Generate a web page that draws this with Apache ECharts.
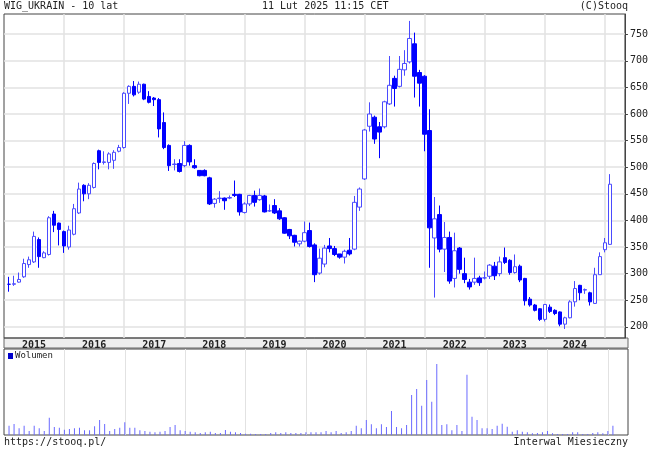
<!DOCTYPE html>
<html>
<head>
<meta charset="utf-8">
<script src="https://cdn.jsdelivr.net/npm/echarts@6/dist/echarts.min.js"></script>
<style>
html,body{margin:0;padding:0;background:#fff;}
#chart{width:651px;height:452px;}
</style>
</head>
<body>
<div id="chart"></div>
<script>
// notowania miesieczne WIG_UKRAIN, od 2015-02 do 2025-02
var opens  = [280,280,284,294,317,322,364,330,336,412,395,379,350,374,414,466,450,462,531,509,509,513,530,537,639,652,641,656,633,630,627,584,541,505,507,503,541,503,494,494,480,432,441,442,442,449,449,415,431,447,439,446,418,428,418,405,383,372,356,361,381,354,
              301,318,352,347,337,331,344,346,425,478,577,594,576,576,619,667,652,683,698,732,678,671,569,367,411,346,368,291,348,300,284,284,292,292,295,314,300,330,325,302,314,291,252,241,234,214,237,231,228,205,217,247,278,269,264,244,298,345,355];
var closes = [280,281,289,319,326,370,332,339,405,391,383,352,382,422,459,450,466,507,509,510,525,528,537,639,652,636,656,628,622,627,572,537,503,506,492,541,510,499,484,484,431,440,442,437,443,447,416,431,447,434,447,416,418,414,403,376,371,359,361,377,351,298,
              329,348,347,336,331,342,337,434,459,570,600,553,566,623,654,648,684,695,742,671,658,562,386,403,346,368,286,343,308,289,275,291,283,292,316,296,322,321,302,313,288,249,241,231,214,242,229,225,205,217,247,272,264,270,247,298,332,358,468];
var lows   = [266,277,283,292,311,320,311,329,334,378,353,339,345,372,412,436,440,460,496,505,496,497,528,535,619,633,638,626,620,615,556,534,493,494,490,500,503,497,483,483,429,424,433,420,440,444,409,413,427,426,437,415,416,412,401,375,365,351,351,359,349,284,
              298,312,340,333,328,319,334,344,418,476,567,544,517,573,617,614,650,672,695,631,614,530,311,255,340,303,281,274,300,282,270,279,277,289,290,288,295,318,298,300,284,240,238,229,211,210,226,222,201,196,216,238,250,262,240,243,298,340,354];
var highs  = [294,296,302,328,332,379,368,342,408,418,396,381,390,431,471,468,470,509,533,530,528,532,542,641,654,662,661,657,643,632,630,603,543,515,515,549,543,515,494,496,482,442,455,443,447,475,450,434,448,456,460,448,430,440,423,406,384,373,362,398,396,357,
              347,354,367,352,337,345,367,446,462,572,622,597,585,625,709,672,709,720,775,753,683,673,609,444,428,397,379,377,350,330,290,330,296,304,318,322,332,349,327,336,317,292,256,243,235,243,242,233,229,219,250,286,279,272,266,311,340,367,487];
var volumes = [28,33,20,28,12,28,20,12,52,24,22,16,18,20,22,14,14,26,45,33,12,18,22,38,22,22,14,12,10,8,10,12,24,30,14,12,10,8,6,8,
               10,6,6,15,10,8,6,4,4,3,3,3,6,8,6,8,6,6,6,8,8,8,8,12,8,12,6,8,12,28,20,45,32,20,32,24,72,24,20,30,
               120,138,88,165,100,213,30,32,14,30,12,181,55,45,20,20,18,28,34,25,10,14,10,8,5,6,8,12,5,3,3,3,8,8,3,3,6,8,5,12,28];
var startYear = 2015, startMonth = 2;
var yTicks = [200,250,300,350,400,450,500,550,600,650,700,750];

// kategorie: jeden pusty slot z przodu i trzy z tylu
var categories = [''];
var candleData = ['-'];
var volData = ['-'];
for (var i = 0; i < opens.length; i++) {
    var m = startMonth - 1 + i;
    var y = startYear + Math.floor(m / 12);
    var mm = (m % 12) + 1;
    categories.push(y + '-' + (mm < 10 ? '0' + mm : mm));
    candleData.push([opens[i], closes[i], lows[i], highs[i]]);
    volData.push(volumes[i]);
}
for (var j = 0; j < 3; j++) { categories.push(''); candleData.push('-'); volData.push('-'); }

var font = 'DejaVu Sans Mono';
var isJan = function(idx, val){ return /-01$/.test(val); };

var myChart = echarts.init(document.getElementById('chart'));
var option = {
    animation: false,
    backgroundColor: '#fff',
    textStyle: { fontFamily: font },
    grid: [
        { left: 4, width: 624, top: 14, height: 324, show: true, borderColor: '#444', borderWidth: 1 },
        { left: 4, width: 624, top: 349, height: 86, show: true, borderColor: '#444', borderWidth: 1 }
    ],
    xAxis: [{
        gridIndex: 0, type: 'category', data: categories, boundaryGap: false,
        axisLine: { show: false }, axisTick: { show: false },
        axisLabel: { interval: function(idx, val){ return /-07$/.test(val); },
            formatter: function(v){ return v.slice(0, 4); },
            margin: 2, fontSize: 10, fontWeight: 'bold', color: '#222', fontFamily: font },
        splitLine: { show: true, interval: isJan, lineStyle: { color: '#e2e2e2', width: 1.5 } }
    }, {
        gridIndex: 1, type: 'category', data: categories, boundaryGap: false,
        axisLine: { show: false }, axisTick: { show: false }, axisLabel: { show: false },
        splitLine: { show: true, interval: isJan, lineStyle: { color: '#e2e2e2', width: 1 } }
    }],
    yAxis: [{
        gridIndex: 0, type: 'value', position: 'right', min: 179, max: 788,
        axisLine: { show: true, lineStyle: { color: '#444' } },
        axisTick: { show: true, inside: false, length: 3, customValues: yTicks, lineStyle: { color: '#444' } },
        axisLabel: { customValues: yTicks, margin: 5, fontSize: 10, color: '#222', fontFamily: font },
        splitLine: { show: true, lineStyle: { color: '#e2e2e2', width: 1.5 } }
    }, {
        gridIndex: 1, type: 'value', min: 0, max: 258, show: false,
        splitLine: { show: false }
    }],
    series: [{
        type: 'candlestick', xAxisIndex: 0, yAxisIndex: 0, data: candleData,
        barWidth: 4,
        itemStyle: { color: '#ffffff', color0: '#0000ff', borderColor: '#4b4bff', borderColor0: '#0000ff', borderWidth: 1 }
    }, {
        type: 'bar', xAxisIndex: 1, yAxisIndex: 1, data: volData,
        barWidth: 1, itemStyle: { color: '#6a6aff' }
    }],
    graphic: [
        { type: 'rect', z: -1, shape: { x: 4, y: 338, width: 624, height: 10 },
          style: { fill: '#eeeeee', stroke: '#666', lineWidth: 1 } },
        { type: 'text', left: 4, top: 1, style: { text: 'WIG_UKRAIN - 10 lat', font: '10px "DejaVu Sans Mono"', fill: '#222' } },
        { type: 'text', left: 262, top: 1, style: { text: '11 Lut 2025 11:15 CET', font: '10px "DejaVu Sans Mono"', fill: '#222' } },
        { type: 'text', right: 23, top: 1, style: { text: '(C)Stooq', font: '10px "DejaVu Sans Mono"', fill: '#222' } },
        { type: 'rect', shape: { x: 8, y: 353, width: 5, height: 6 }, style: { fill: '#0000cc' } },
        { type: 'text', left: 15, top: 351, style: { text: 'Wolumen', font: '9px "DejaVu Sans Mono"', fill: '#222' } },
        { type: 'text', left: 4, top: 437, style: { text: 'https://stooq.pl/', font: '10px "DejaVu Sans Mono"', fill: '#222' } },
        { type: 'text', right: 23, top: 437, style: { text: 'Interwal Miesieczny', font: '10px "DejaVu Sans Mono"', fill: '#222' } }
    ]
};
myChart.setOption(option, true);
</script>
</body>
</html>
